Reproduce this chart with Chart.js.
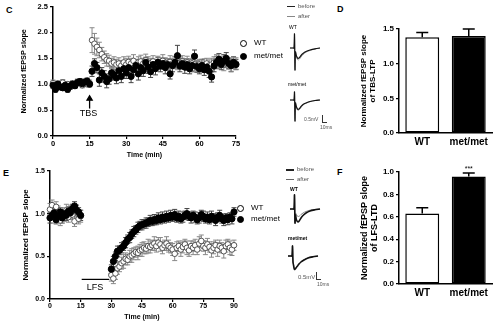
<!DOCTYPE html>
<html>
<head>
<meta charset="utf-8">
<script src="https://cdn.jsdelivr.net/npm/chart.js@4.4.1/dist/chart.umd.min.js"></script>
<style>
body { margin: 0; width: 502px; height: 327px; background: #fff; position: relative; overflow: hidden; font-family: "Liberation Sans", Arial, sans-serif; }
.box { position: absolute; }
.lbl { position: absolute; white-space: nowrap; line-height: 1; color: #000; }
.dot { position: absolute; width: 5px; height: 5px; border-radius: 50%; border: 1px solid #000; }
.dash { position: absolute; height: 0; border-top: 1px solid #333; }
.bar { position: absolute; border-left: 1px solid #333; border-bottom: 1px solid #333; }
</style>
</head>
<body>

<div class="lbl" style="left:6px;top:6px;font-size:9px;font-weight:bold">C</div>
<div class="lbl" style="left:337px;top:5px;font-size:9px;font-weight:bold">D</div>
<div class="lbl" style="left:3px;top:169px;font-size:9px;font-weight:bold">E</div>
<div class="lbl" style="left:337px;top:168px;font-size:9px;font-weight:bold">F</div>

<div class="box" id="wrapC" style="left:0;top:0;width:250px;height:165px"><canvas id="chartC"></canvas></div>
<div class="box" id="wrapD" style="left:340px;top:15px;width:162px;height:140px"><canvas id="chartD"></canvas></div>
<div class="box" id="wrapE" style="left:0;top:160px;width:250px;height:163px"><canvas id="chartE"></canvas></div>
<div class="box" id="wrapF" style="left:340px;top:160px;width:162px;height:146px"><canvas id="chartF"></canvas></div>

<!-- legends C and E -->
<div class="dot" style="left:240px;top:40px;background:#fff"></div>
<div class="lbl" style="left:254px;top:39px;font-size:8px">WT</div>
<div class="dot" style="left:240px;top:53px;background:#000"></div>
<div class="lbl" style="left:254px;top:52px;font-size:8px">met/met</div>
<div class="dot" style="left:237px;top:205px;background:#fff"></div>
<div class="lbl" style="left:251px;top:204px;font-size:8px">WT</div>
<div class="dot" style="left:237px;top:216px;background:#000"></div>
<div class="lbl" style="left:251px;top:215px;font-size:8px">met/met</div>

<!-- trace insets -->
<div class="dash" style="left:287px;top:6px;width:8px;border-color:#222"></div>
<div class="lbl" style="left:298px;top:3px;font-size:6px;color:#555">before</div>
<div class="dash" style="left:287px;top:16px;width:8px;border-color:#888"></div>
<div class="lbl" style="left:298px;top:13px;font-size:6px;color:#555">after</div>
<div class="lbl" style="left:289px;top:25px;font-size:5px">WT</div>
<div class="lbl" style="left:288px;top:82px;font-size:5px">met/met</div>
<div class="lbl" style="left:304px;top:117px;font-size:5px;color:#555">0.5mV</div>
<div class="bar" style="left:322px;top:115px;width:4px;height:7px"></div>
<div class="lbl" style="left:320px;top:125px;font-size:5px;color:#555">10ms</div>

<div class="dash" style="left:286px;top:169px;width:8px;border-color:#222;border-top-width:2px"></div>
<div class="lbl" style="left:297px;top:166px;font-size:6px;color:#555">before</div>
<div class="dash" style="left:286px;top:179px;width:8px;border-color:#666"></div>
<div class="lbl" style="left:297px;top:176px;font-size:6px;color:#555">after</div>
<div class="lbl" style="left:290px;top:187px;font-size:5px;font-weight:bold">WT</div>
<div class="lbl" style="left:288px;top:236px;font-size:5px;font-weight:bold">met/met</div>
<div class="lbl" style="left:298px;top:274px;font-size:6px;color:#555">0.5mV</div>
<div class="bar" style="left:316px;top:272px;width:4px;height:7px"></div>
<div class="lbl" style="left:317px;top:282px;font-size:5px;color:#555">10ms</div>

<div class="box" style="left:288px;top:30px;width:34px;height:44px"><canvas id="trC1"></canvas></div>
<div class="box" style="left:288px;top:88px;width:34px;height:38px"><canvas id="trC2"></canvas></div>
<div class="box" style="left:288px;top:191px;width:34px;height:36px"><canvas id="trE1"></canvas></div>
<div class="box" style="left:286px;top:242px;width:34px;height:32px"><canvas id="trE2"></canvas></div>

<script>
// ---- panel C: TBS-LTP time course ----
var timeC = [0,1,2,3,4,5,6,7,8,9,10,11,12,13,14,15,16,17,18,19,20,21,22,23,24,25,26,27,28,29,30,31,32,33,34,35,36,37,38,39,40,41,42,43,44,45,46,47,48,49,50,51,52,53,54,55,56,57,58,59,60,61,62,63,64,65,66,67,68,69,70,71,72,73,74,75];
var wtC = [1.02,0.95,1.00,0.98,1.03,0.96,1.00,0.97,1.01,0.99,1.04,1.02,0.98,1.03,1.00,1.02,1.85,1.78,1.72,1.66,1.58,1.52,1.47,1.45,1.40,1.42,1.38,1.40,1.36,1.42,1.38,1.43,1.40,1.45,1.38,1.42,1.44,1.40,1.46,1.42,1.40,1.44,1.38,1.42,1.40,1.45,1.41,1.38,1.43,1.40,1.42,1.38,1.41,1.44,1.39,1.42,1.36,1.40,1.38,1.35,1.38,1.34,1.37,1.40,1.36,1.38,1.42,1.45,1.40,1.43,1.38,1.42,1.40,1.37,1.42,1.40];
var wtCerr = [0.06,0.05,0.06,0.05,0.06,0.05,0.05,0.06,0.05,0.06,0.06,0.05,0.05,0.06,0.05,0.06,0.24,0.20,0.17,0.15,0.13,0.12,0.12,0.11,0.10,0.11,0.10,0.11,0.10,0.11,0.12,0.11,0.10,0.12,0.10,0.11,0.12,0.10,0.12,0.11,0.10,0.11,0.10,0.12,0.11,0.12,0.10,0.11,0.12,0.10,0.11,0.10,0.12,0.11,0.10,0.12,0.11,0.10,0.12,0.11,0.10,0.11,0.12,0.10,0.11,0.12,0.11,0.12,0.10,0.11,0.12,0.10,0.11,0.12,0.10,0.11];
var metC = [0.98,0.90,1.00,0.95,0.93,0.98,0.90,0.96,1.00,0.97,1.03,1.05,1.01,1.04,1.06,1.00,1.25,1.40,1.32,1.08,1.22,1.15,1.05,1.10,1.22,1.18,1.12,1.26,1.15,1.30,1.22,1.32,1.15,1.28,1.36,1.20,1.32,1.26,1.42,1.33,1.24,1.38,1.30,1.42,1.35,1.40,1.32,1.38,1.20,1.36,1.42,1.55,1.35,1.40,1.33,1.38,1.30,1.36,1.54,1.34,1.30,1.36,1.28,1.33,1.25,1.14,1.35,1.42,1.48,1.38,1.45,1.50,1.40,1.36,1.42,1.38];
var metCerr = [0.06,0.05,0.06,0.06,0.05,0.06,0.05,0.06,0.06,0.05,0.06,0.06,0.05,0.06,0.06,0.05,0.10,0.09,0.10,0.12,0.10,0.11,0.12,0.10,0.11,0.10,0.11,0.10,0.12,0.10,0.11,0.10,0.12,0.10,0.11,0.12,0.10,0.11,0.10,0.12,0.11,0.10,0.12,0.10,0.11,0.10,0.12,0.11,0.10,0.12,0.11,0.20,0.11,0.10,0.12,0.11,0.10,0.12,0.12,0.11,0.10,0.12,0.11,0.10,0.12,0.10,0.11,0.12,0.11,0.10,0.12,0.11,0.10,0.12,0.11,0.10];
var ticksC = [0, 15, 30, 45, 60, 75];

// ---- panel E: LFS-LTD time course (gap during stimulation) ----
var timeE = [0,1,2,3,4,5,6,7,8,9,10,11,12,13,14,15,30,31,32,33,34,35,36,37,38,39,40,41,42,43,44,45,46,47,48,49,50,51,52,53,54,55,56,57,58,59,60,61,62,63,64,65,66,67,68,69,70,71,72,73,74,75,76,77,78,79,80,81,82,83,84,85,86,87,88,89,90];
var wtE = [1.05,1.10,0.96,1.08,1.02,0.92,1.00,0.97,1.04,0.96,1.03,0.99,0.91,1.02,0.94,0.97,0.28,0.24,0.30,0.36,0.38,0.42,0.44,0.47,0.46,0.50,0.51,0.53,0.55,0.54,0.57,0.58,0.60,0.59,0.62,0.61,0.63,0.65,0.62,0.66,0.64,0.60,0.63,0.65,0.62,0.60,0.58,0.53,0.60,0.62,0.58,0.61,0.64,0.60,0.57,0.62,0.60,0.63,0.58,0.65,0.68,0.62,0.60,0.64,0.61,0.57,0.60,0.63,0.58,0.62,0.60,0.56,0.62,0.64,0.60,0.58,0.63];
var wtEerr = [0.07,0.06,0.07,0.06,0.07,0.06,0.07,0.06,0.07,0.06,0.07,0.06,0.06,0.07,0.06,0.07,0.07,0.06,0.07,0.07,0.06,0.07,0.08,0.07,0.06,0.07,0.08,0.07,0.06,0.08,0.07,0.08,0.07,0.06,0.08,0.07,0.06,0.08,0.07,0.06,0.08,0.07,0.06,0.08,0.07,0.06,0.07,0.08,0.07,0.06,0.08,0.07,0.06,0.08,0.07,0.06,0.08,0.07,0.06,0.08,0.07,0.06,0.08,0.07,0.06,0.08,0.07,0.06,0.08,0.07,0.06,0.08,0.07,0.06,0.08,0.07,0.06];
var metE = [0.95,0.98,1.01,0.93,0.97,1.02,0.95,1.00,0.98,1.03,1.01,1.06,1.09,1.04,1.02,0.98,0.35,0.44,0.50,0.56,0.57,0.60,0.62,0.66,0.70,0.72,0.76,0.79,0.81,0.84,0.86,0.87,0.88,0.89,0.90,0.92,0.91,0.93,0.92,0.95,0.93,0.96,0.94,0.97,0.95,0.98,0.96,0.99,0.95,0.97,0.94,0.96,0.98,1.00,0.97,0.95,0.98,0.96,0.93,0.95,0.99,0.97,0.94,0.96,0.93,0.97,0.95,0.92,0.96,0.98,0.94,0.92,0.95,0.93,0.96,0.94,1.02];
var metEerr = [0.06,0.05,0.06,0.05,0.06,0.05,0.06,0.05,0.06,0.05,0.06,0.05,0.05,0.06,0.05,0.06,0.05,0.06,0.05,0.06,0.05,0.06,0.05,0.06,0.05,0.06,0.05,0.06,0.05,0.06,0.05,0.06,0.05,0.06,0.05,0.06,0.05,0.06,0.05,0.06,0.05,0.06,0.05,0.06,0.05,0.06,0.05,0.06,0.05,0.06,0.05,0.06,0.05,0.06,0.05,0.06,0.05,0.06,0.05,0.06,0.05,0.06,0.05,0.06,0.05,0.06,0.05,0.06,0.05,0.06,0.05,0.06,0.05,0.06,0.05,0.06,0.05];

// ---- bar panels D and F ----
var groups = ['WT', 'met/met'];
var ltpMean = [1.38, 1.40];
var ltpErr = [0.07, 0.10];
var ltdMean = [0.63, 0.96];
var ltdErr = [0.05, 0.03];

// ---- example traces (ms, arbitrary mV units) ----
var traceT = [0, 3, 4, 4.5, 5, 5.5, 6.5, 8, 9.5, 11, 13, 16, 20, 25, 30];
var trC_wt_before = [0, 0, 0, 1.4, -2.2, -0.4, -0.8, -1.05, -0.95, -0.75, -0.55, -0.35, -0.2, -0.08, 0];
var trC_wt_after = [0, 0, 0, 1.4, -2.2, -0.5, -0.95, -1.2, -1.1, -0.9, -0.65, -0.42, -0.25, -0.1, 0];
var trC_met_before = [0, 0, 0, 0.8, -2.1, -0.3, -0.7, -0.95, -0.85, -0.65, -0.45, -0.3, -0.15, -0.05, 0];
var trC_met_after = [0, 0, 0, 0.8, -2.1, -0.4, -0.8, -1.05, -0.95, -0.75, -0.5, -0.33, -0.17, -0.06, 0];
var trE_wt_before = [0, 0, 0, 1.4, -1.4, -0.6, -1.1, -1.3, -1.15, -0.9, -0.65, -0.4, -0.2, -0.08, 0];
var trE_wt_after = [0, 0, 0, 1.4, -1.4, -0.4, -0.6, -0.75, -0.7, -0.55, -0.4, -0.25, -0.12, -0.04, 0];
var trE_met_before = [0, 0, 0, 1.0, -0.6, -0.9, -1.35, -1.2, -1.0, -0.8, -0.6, -0.4, -0.2, -0.08, 0];
var trE_met_after = [0, 0, 0, 1.0, -0.6, -0.85, -1.3, -1.15, -0.95, -0.76, -0.57, -0.38, -0.19, -0.07, 0];

Chart.defaults.font.family = '"Liberation Sans", Arial, sans-serif';
Chart.defaults.color = '#000';

// error bars for datasets carrying an "errors" array
var errorBars = {
  id: 'errorBars',
  beforeDatasetsDraw: function(chart) {
    var ctx = chart.ctx;
    chart.data.datasets.forEach(function(ds, di) {
      if (!ds.errors) return;
      var meta = chart.getDatasetMeta(di);
      var ys = chart.scales[meta.yAxisID];
      ctx.save();
      ctx.strokeStyle = ds.errorColor || '#000';
      ctx.lineWidth = ds.errorWidth || 1;
      meta.data.forEach(function(el, i) {
        var d = ds.data[i];
        var v = (typeof d === 'object') ? d.y : d;
        var e = ds.errors[i];
        var top = ys.getPixelForValue(v + e);
        var bot = ds.errorUpOnly ? el.y : ys.getPixelForValue(v - e);
        var cap = ds.capWidth || 2;
        ctx.beginPath();
        ctx.moveTo(el.x, top); ctx.lineTo(el.x, bot);
        ctx.moveTo(el.x - cap, top); ctx.lineTo(el.x + cap, top);
        if (!ds.errorUpOnly) { ctx.moveTo(el.x - cap, bot); ctx.lineTo(el.x + cap, bot); }
        ctx.stroke();
      });
      ctx.restore();
    });
  }
};

// text notes placed in data coordinates
var notes = {
  id: 'notes',
  afterDatasetsDraw: function(chart, args, opts) {
    if (!opts.items) return;
    var ctx = chart.ctx;
    opts.items.forEach(function(n) {
      ctx.save();
      ctx.font = n.font;
      ctx.fillStyle = '#000';
      ctx.textAlign = 'center';
      ctx.textBaseline = 'middle';
      ctx.fillText(n.text, chart.scales.x.getPixelForValue(n.x), chart.scales.y.getPixelForValue(n.y));
      ctx.restore();
    });
  }
};

function axisFont(size, bold) {
  return { size: size, weight: bold ? 'bold' : 'normal' };
}

function timeAxes(xmax, xticks, ymax, ystep, xh, yw, tickSize, titleSize, ytitleSize) {
  return {
    x: {
      type: 'linear', min: 0, max: xmax,
      afterBuildTicks: function(s) { s.ticks = xticks.map(function(v) { return { value: v }; }); },
      ticks: { font: axisFont(tickSize, true), color: '#000', padding: 0, maxRotation: 0 },
      grid: { display: true, drawOnChartArea: false, drawTicks: true, tickLength: 3, color: '#000', lineWidth: 1.2 },
      border: { color: '#000', width: 1.5 },
      title: { display: true, text: 'Time (min)', font: axisFont(titleSize, true), color: '#000', padding: 0 },
      afterFit: function(s) { s.height = xh; }
    },
    y: {
      min: 0, max: ymax,
      ticks: { stepSize: ystep, font: axisFont(tickSize, true), color: '#000', padding: 2, callback: function(v) { return v.toFixed(1); } },
      grid: { display: true, drawOnChartArea: false, drawTicks: true, tickLength: 3, color: '#000', lineWidth: 1.2 },
      border: { color: '#000', width: 1.5 },
      title: { display: true, text: 'Normalized fEPSP slope', font: axisFont(ytitleSize, true), color: '#000', padding: 0 },
      afterFit: function(s) { s.width = yw; }
    }
  };
}

function pts(times, vals) {
  return times.map(function(t, i) { return { x: t, y: vals[i] }; });
}

// panel C
var axC = timeAxes(75, ticksC, 2.5, 0.5, 23, 33, 7.5, 7, 7.3);
new Chart(document.getElementById('chartC'), {
  type: 'scatter',
  data: {
    datasets: [
      { data: pts(timeC, metC), errors: metCerr, errorColor: '#444', capWidth: 2.5,
        pointRadius: 3.1, backgroundColor: '#000', borderColor: '#000', borderWidth: 1, clip: false },
      { data: pts(timeC, wtC), errors: wtCerr, errorColor: '#888', capWidth: 2.5,
        pointRadius: 2.8, backgroundColor: '#fff', borderColor: '#444', borderWidth: 0.9, clip: false },
      { data: [{ x: 15, y: 0.53 }, { x: 15, y: 0.72 }], showLine: true, borderColor: '#000', borderWidth: 1.3,
        pointRadius: [0, 3], pointStyle: 'triangle', backgroundColor: '#000', clip: false }
    ]
  },
  options: {
    responsive: true, maintainAspectRatio: false, animation: false, devicePixelRatio: 1,
    layout: { padding: { left: 20, top: 5, right: 14, bottom: 6 } },
    scales: axC,
    plugins: {
      legend: { display: false }, tooltip: { enabled: false },
      notes: { items: [{ x: 14.5, y: 0.43, text: 'TBS', font: '9px "Liberation Sans", Arial, sans-serif' }] }
    }
  },
  plugins: [errorBars, notes]
});

// panel E
var axE = timeAxes(90, [0, 15, 30, 45, 60, 75, 90], 1.5, 0.5, 22, 29, 7, 7, 7.9);
new Chart(document.getElementById('chartE'), {
  type: 'scatter',
  data: {
    datasets: [
      { data: pts(timeE, metE), errors: metEerr, errorColor: '#444', capWidth: 2.5,
        pointRadius: 3.1, backgroundColor: '#000', borderColor: '#000', borderWidth: 1, clip: false },
      { data: pts(timeE, wtE), errors: wtEerr, errorColor: '#888', capWidth: 2.5,
        pointRadius: 2.8, backgroundColor: '#fff', borderColor: '#444', borderWidth: 0.9, clip: false },
      { data: [{ x: 15.5, y: 0.23 }, { x: 29, y: 0.23 }], showLine: true, borderColor: '#000', borderWidth: 1.2,
        pointRadius: 0, clip: false }
    ]
  },
  options: {
    responsive: true, maintainAspectRatio: false, animation: false, devicePixelRatio: 1,
    layout: { padding: { left: 21, top: 11, right: 16, bottom: 2 } },
    scales: axE,
    plugins: {
      legend: { display: false }, tooltip: { enabled: false },
      notes: { items: [{ x: 22, y: 0.13, text: 'LFS', font: '9px "Liberation Sans", Arial, sans-serif' }] }
    }
  },
  plugins: [errorBars, notes]
});

function barChart(id, means, errs, ymax, ystep, title, padTop, titleSize, star) {
  return new Chart(document.getElementById(id), {
    type: 'bar',
    data: {
      labels: groups,
      datasets: [{
        data: means, errors: errs, errorUpOnly: true, errorColor: '#000', errorWidth: 1.5, capWidth: 6,
        backgroundColor: ['#fff', '#000'], borderColor: '#000', borderWidth: 1.5, borderSkipped: false,
        barPercentage: 0.73, categoryPercentage: 1
      }]
    },
    options: {
      responsive: true, maintainAspectRatio: false, animation: false, devicePixelRatio: 1,
      layout: { padding: { left: 20, top: padTop, right: 10, bottom: 2 } },
      scales: {
        x: {
          ticks: { font: axisFont(10, true), color: '#000', padding: 3 },
          grid: { display: true, drawOnChartArea: false, drawTicks: false, color: '#000' },
          border: { color: '#000', width: 1.5 },
          afterFit: function(s) { s.height = 20; }
        },
        y: {
          min: 0, max: ymax,
          ticks: { stepSize: ystep, font: axisFont(8, true), color: '#000', padding: 2, callback: function(v) { return v.toFixed(1); } },
          grid: { display: true, drawOnChartArea: false, drawTicks: true, tickLength: 3, color: '#000', lineWidth: 1.2 },
          border: { color: '#000', width: 1.5 },
          title: { display: true, text: ['Normalized fEPSP slope', title], font: { size: titleSize, weight: 'bold', lineHeight: 1.05 }, color: '#000', padding: 0 },
          afterFit: function(s) { s.width = 39; }
        }
      },
      plugins: {
        legend: { display: false }, tooltip: { enabled: false },
        notes: { items: star ? [{ x: 1, y: star, text: '***', font: '7px "Liberation Sans", Arial, sans-serif' }] : [] }
      }
    },
    plugins: [errorBars, notes]
  });
}

barChart('chartD', ltpMean, ltpErr, 1.5, 0.5, 'of TBS-LTP', 14, 8, null);
barChart('chartF', ltdMean, ltdErr, 1.0, 0.2, 'of LFS-LTD', 12, 9, 1.03);

function traceChart(id, before, after, ymin, ymax, beforeW, afterColor) {
  return new Chart(document.getElementById(id), {
    type: 'line',
    data: {
      datasets: [
        { data: pts(traceT, before), borderColor: '#111', borderWidth: beforeW, pointRadius: 0, tension: 0.3, clip: false },
        { data: pts(traceT, after), borderColor: afterColor, borderWidth: 1, pointRadius: 0, tension: 0.3, clip: false }
      ]
    },
    options: {
      responsive: true, maintainAspectRatio: false, animation: false, devicePixelRatio: 1,
      layout: { padding: 2 },
      scales: {
        x: { type: 'linear', display: false, min: 0, max: 30 },
        y: { display: false, min: ymin, max: ymax }
      },
      plugins: { legend: { display: false }, tooltip: { enabled: false } }
    }
  });
}

traceChart('trC1', trC_wt_before, trC_wt_after, -2.4, 1.6, 1.2, '#999');
traceChart('trC2', trC_met_before, trC_met_after, -2.4, 1.0, 1.2, '#999');
traceChart('trE1', trE_wt_before, trE_wt_after, -1.6, 1.6, 1.6, '#888');
traceChart('trE2', trE_met_before, trE_met_after, -1.6, 1.2, 1.6, '#888');
</script>
</body>
</html>
